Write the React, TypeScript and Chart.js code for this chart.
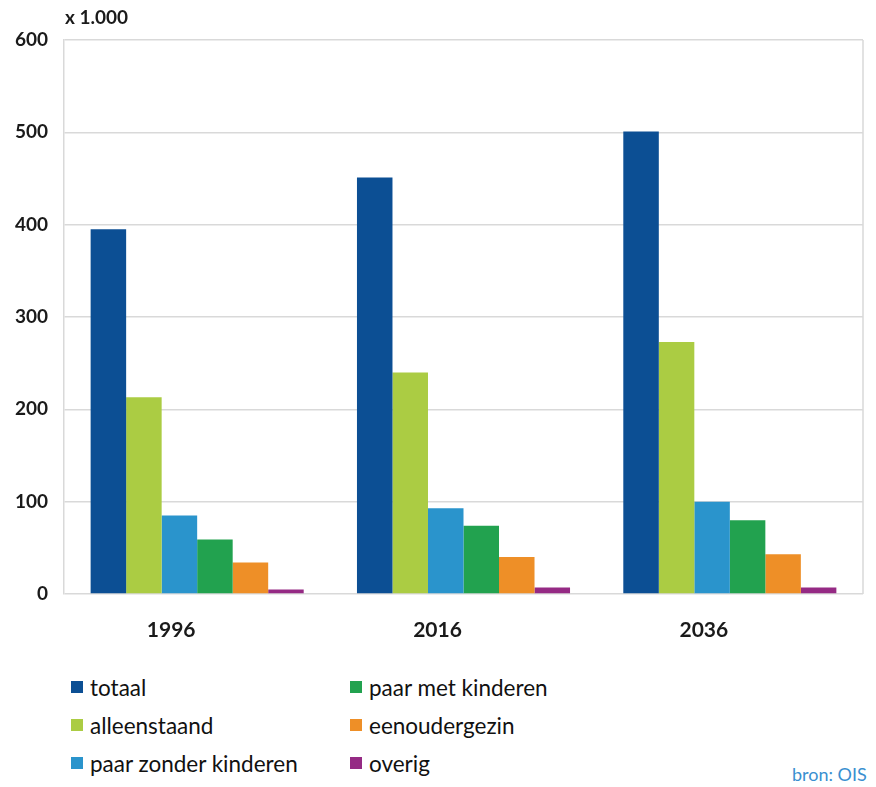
import React, { useEffect, useRef } from "react";
import { Chart, registerables } from "chart.js";

Chart.register(...registerables);

const categories = ["1996", "2016", "2036"];
const seriesNames = ["totaal", "alleenstaand", "paar zonder kinderen", "paar met kinderen", "eenoudergezin", "overig"];
const totaal = [395, 451, 501];
const alleenstaand = [213, 240, 273];
const paarZonder = [85, 93, 100];
const paarMet = [59, 74, 80];
const eenouder = [34, 40, 43];
const overig = [5, 7, 7];
const yTicks = [0, 100, 200, 300, 400, 500, 600];
const colors = ["#0c4f94", "#abcc43", "#2a94cc", "#22a24f", "#ee8f27", "#952a84"];

const seriesValues = [totaal, alleenstaand, paarZonder, paarMet, eenouder, overig];

const FONT = "Lato, 'Open Sans', sans-serif";

export default function App() {
  const ref = useRef<HTMLCanvasElement | null>(null);
  useEffect(() => {
    if (!ref.current) return;
    const chart = new Chart(ref.current, {
      type: "bar",
      data: {
        labels: categories,
        datasets: seriesNames.map((n, i) => ({
          label: n,
          data: seriesValues[i],
          backgroundColor: colors[i],
          borderWidth: 0,
          categoryPercentage: 0.8,
          barPercentage: 1.0,
        })),
      },
      options: {
        animation: false,
        responsive: false,
        maintainAspectRatio: false,
        layout: { padding: { top: 40, right: 13, left: 0, bottom: 0 } },
        plugins: { legend: { display: false }, tooltip: { enabled: false }, title: { display: false } },
        scales: {
          x: {
            grid: { display: false, drawTicks: false },
            border: { display: false },
            ticks: { color: "#1a1a1a", font: { family: FONT, size: 21, weight: "bold" }, padding: 24, labelOffset: -26 },
            afterFit: (s: any) => { s.height = 660 - 594; },
          },
          y: {
            min: 0,
            max: 600,
            afterBuildTicks: (s: any) => { s.ticks = yTicks.map((v) => ({ value: v })); },
            grid: { color: "#d9d9d9", lineWidth: 1.5, drawTicks: false },
            border: { display: true, color: "#d9d9d9", width: 1.5 },
            ticks: { color: "#1a1a1a", font: { family: FONT, size: 19, weight: "bold" }, padding: 16 },
            afterFit: (s: any) => { s.width = 64; },
          },
        },
      },
      plugins: [
        {
          id: "frame",
          afterDraw(c: any) {
            const { ctx, chartArea } = c;
            ctx.save();
            ctx.strokeStyle = "#d9d9d9";
            ctx.lineWidth = 1.5;
            ctx.beginPath();
            ctx.moveTo(chartArea.right, chartArea.top);
            ctx.lineTo(chartArea.right, chartArea.bottom);
            ctx.stroke();
            ctx.restore();
          },
        },
      ],
    });
    return () => chart.destroy();
  }, []);

  const legendOrder = [0, 1, 2, 3, 4, 5];
  return (
    <div style={{ position: "absolute", left: 0, top: 0, width: 876, height: 787, background: "#fff", fontFamily: FONT }}>
      <canvas ref={ref} width={876} height={660} style={{ position: "absolute", left: 0, top: 0 }} />
      <div style={{ position: "absolute", left: 65, top: 5, fontSize: 19, fontWeight: "bold", color: "#1a1a1a" }}>x 1.000</div>
      {legendOrder.map((i) => {
        const col = Math.floor(i / 3);
        const row = i % 3;
        return (
          <div
            key={i}
            style={{
              position: "absolute",
              left: col === 0 ? 71 : 350,
              top: 673 + row * 38,
              height: 28,
              display: "flex",
              alignItems: "center",
              fontSize: 22.5,
              color: "#111",
              whiteSpace: "nowrap",
            }}
          >
            <span style={{ display: "inline-block", width: 12, height: 12, background: colors[i], marginRight: 7 }} />
            {seriesNames[i]}
          </div>
        );
      })}
      <div style={{ position: "absolute", left: 792, top: 763, fontSize: 18, color: "#3a8fd0" }}>bron: OIS</div>
    </div>
  );
}
